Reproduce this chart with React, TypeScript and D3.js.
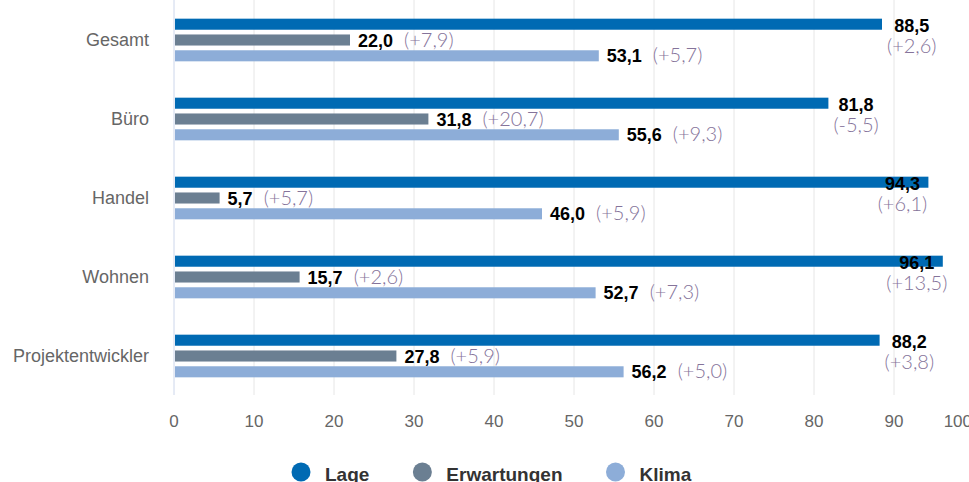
import React, { useEffect, useRef } from 'react';
import * as d3 from 'd3';

const categories = ['Gesamt', 'Büro', 'Handel', 'Wohnen', 'Projektentwickler'];
const seriesNames = ['Lage', 'Erwartungen', 'Klima'];
const seriesColors = ['#006ab3', '#6b7f92', '#8dadd8'];

const lage = [88.5, 81.8, 94.3, 96.1, 88.2];
const lageChange = [2.6, -5.5, 6.1, 13.5, 3.8];
const erwartungen = [22.0, 31.8, 5.7, 15.7, 27.8];
const erwartungenChange = [7.9, 20.7, 5.7, 2.6, 5.9];
const klima = [53.1, 55.6, 46.0, 52.7, 56.2];
const klimaChange = [5.7, 9.3, 5.9, 7.3, 5.0];

const xTicks = [0, 10, 20, 30, 40, 50, 60, 70, 80, 90, 100];

const WIDTH = 969;
const HEIGHT = 482;

const fmt = (v: number) => v.toFixed(1).replace('.', ',');
const fmtChange = (v: number) => '(' + (v > 0 ? '+' : '') + fmt(v) + ')';

const App = () => {
  const svgRef = useRef<SVGSVGElement | null>(null);

  useEffect(() => {
    const svg = d3.select(svgRef.current);
    svg.selectAll('*').remove();

    const values = [lage, erwartungen, klima];
    const changes = [lageChange, erwartungenChange, klimaChange];

    const x = d3.scaleLinear().domain([0, 100]).range([174, 974]);
    const y = d3.scaleBand().domain(categories).range([0.5, 395.5]);
    const inner = d3.scaleBand()
      .domain(seriesNames)
      .range([0, y.bandwidth()])
      .paddingInner(0.3)
      .paddingOuter(1.15);

    // grid
    svg.append('g')
      .selectAll('line')
      .data(xTicks.slice(1))
      .join('line')
      .attr('x1', d => x(d))
      .attr('x2', d => x(d))
      .attr('y1', 0)
      .attr('y2', 395)
      .attr('stroke', '#e6e6e6')
      .attr('stroke-width', 1);

    // left axis line
    svg.append('line')
      .attr('x1', x(0)).attr('x2', x(0))
      .attr('y1', 0).attr('y2', 395)
      .attr('stroke', '#ccd6eb')
      .attr('stroke-width', 1);

    // x tick labels (last one justified to the chart edge)
    const lastTick = xTicks[xTicks.length - 1];
    svg.append('g')
      .selectAll('text')
      .data(xTicks)
      .join('text')
      .attr('x', d => (d === lastTick ? x(d) - 2 : x(d)))
      .attr('y', 427)
      .attr('text-anchor', d => (d === lastTick ? 'end' : 'middle'))
      .attr('font-family', 'Liberation Sans, Arial, sans-serif')
      .attr('font-size', '17px')
      .attr('fill', '#666666')
      .text(d => d);

    // category labels
    svg.append('g')
      .selectAll('text')
      .data(categories)
      .join('text')
      .attr('x', 149)
      .attr('y', d => (y(d) as number) + y.bandwidth() / 2 + 6)
      .attr('text-anchor', 'end')
      .attr('font-family', 'Liberation Sans, Arial, sans-serif')
      .attr('font-size', '18px')
      .attr('fill', '#666666')
      .text(d => d);

    // bars
    seriesNames.forEach((s, si) => {
      const g = svg.append('g');
      g.selectAll('rect')
        .data(categories)
        .join('rect')
        .attr('x', x(0) + 1)
        .attr('y', d => (y(d) as number) + (inner(s) as number))
        .attr('width', (d, i) => x(values[si][i]) - x(0) - 1)
        .attr('height', inner.bandwidth())
        .attr('fill', seriesColors[si]);
    });

    // labels
    const valueFont = 'Liberation Sans, Arial, sans-serif';
    const changeFont = 'Lato, Open Sans, sans-serif';
    const changeColor = '#85739a';

    seriesNames.forEach((s, si) => {
      categories.forEach((c, i) => {
        const v = values[si][i];
        const ch = changes[si][i];
        const yc = (y(c) as number) + (inner(s) as number) + inner.bandwidth() / 2;
        const end = x(v);
        if (si === 0) {
          const lg = svg.append('g');
          const t1 = lg.append('text')
            .attr('y', yc + 8)
            .attr('text-anchor', 'middle')
            .attr('font-family', valueFont)
            .attr('font-weight', 'bold')
            .attr('font-size', '18px')
            .attr('fill', '#000')
            .text(fmt(v));
          const t2 = lg.append('text')
            .attr('y', yc + 29)
            .attr('text-anchor', 'middle')
            .attr('font-family', changeFont)
            .attr('font-weight', 300)
            .attr('font-size', '20px')
            .attr('fill', changeColor)
            .text(fmtChange(ch));
          const w = Math.max(
            (t1.node() as SVGTextElement).getComputedTextLength(),
            (t2.node() as SVGTextElement).getComputedTextLength()
          );
          let cx = end + 5 + w / 2;
          if (end + 5 + w > WIDTH) cx = end - 26;
          t1.attr('x', cx);
          t2.attr('x', cx);
        } else {
          const t = svg.append('text')
            .attr('x', end + 8)
            .attr('y', yc + 6.5)
            .attr('font-family', valueFont)
            .attr('font-size', '18px');
          t.append('tspan')
            .attr('font-weight', 'bold')
            .attr('fill', '#000')
            .text(fmt(v));
          t.append('tspan')
            .attr('dx', 11)
            .attr('font-family', changeFont)
            .attr('font-weight', 300)
            .attr('font-size', '20px')
            .attr('fill', changeColor)
            .text(fmtChange(ch));
        }
      });
    });

    // legend
    const legend = svg.append('g');
    let lx = 301;
    seriesNames.forEach((s, si) => {
      legend.append('circle')
        .attr('cx', lx)
        .attr('cy', 472)
        .attr('r', 9.5)
        .attr('fill', seriesColors[si]);
      const t = legend.append('text')
        .attr('x', lx + 24)
        .attr('y', 481)
        .attr('font-family', valueFont)
        .attr('font-weight', 'bold')
        .attr('font-size', '19px')
        .attr('fill', '#333333')
        .text(s);
      lx = lx + 24 + (t.node() as SVGTextElement).getComputedTextLength() + 53;
    });
  }, []);

  return (
    <svg
      ref={svgRef}
      width={WIDTH}
      height={HEIGHT}
      viewBox={`0 0 ${WIDTH} ${HEIGHT}`}
      style={{ position: 'absolute', left: 0, top: 0, background: '#fff' }}
    />
  );
};

export default App;
